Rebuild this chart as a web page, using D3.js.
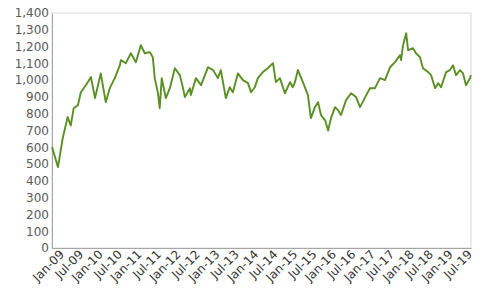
<!DOCTYPE html>
<html>
<head>
<meta charset="utf-8">
<script src="https://cdn.jsdelivr.net/npm/d3@7"></script>
<style>
  body { margin: 0; background: #fff; }
  text { font-family: "DejaVu Sans", sans-serif; }
</style>
</head>
<body>
<svg width="500" height="300"></svg>
<script>
// values, roughly every few weeks
const dates = [
  "2009-01-02","2009-02-26","2009-04-12","2009-05-28","2009-06-26","2009-07-24","2009-09-01","2009-09-29",
  "2009-11-15","2010-01-02","2010-02-09","2010-04-04","2010-05-21","2010-06-28","2010-08-14","2010-10-01",
  "2010-10-10","2010-11-26","2011-01-12","2011-02-28","2011-04-15","2011-05-22","2011-07-08","2011-08-06",
  "2011-08-24","2011-09-22","2011-10-10","2011-10-29","2011-12-06","2012-01-13","2012-02-29","2012-04-16",
  "2012-05-14","2012-06-02","2012-07-19","2012-07-28","2012-09-14","2012-11-01","2013-01-06","2013-02-22",
  "2013-04-08","2013-05-06","2013-06-22","2013-07-29","2013-08-27","2013-10-13","2013-11-30","2014-01-16",
  "2014-02-14","2014-03-21","2014-04-19","2014-06-05","2014-07-21","2014-09-08","2014-10-05","2014-11-12",
  "2014-12-29","2015-02-15","2015-03-13","2015-04-02","2015-04-30","2015-06-16","2015-08-02","2015-08-30",
  "2015-10-07","2015-11-05","2015-12-03","2016-01-10","2016-02-08","2016-03-06","2016-04-13","2016-05-11",
  "2016-06-08","2016-07-25","2016-09-11","2016-10-27","2016-12-04","2017-01-21","2017-03-07","2017-04-23",
  "2017-06-09","2017-07-26","2017-09-12","2017-10-28","2017-12-15","2017-12-24","2018-01-12","2018-02-10",
  "2018-02-28","2018-04-15","2018-05-13","2018-06-20","2018-07-18","2018-09-04","2018-10-02","2018-11-09",
  "2018-12-07","2019-01-04","2019-02-20","2019-03-28","2019-04-26","2019-05-24","2019-07-01","2019-07-29",
  "2019-08-26","2019-10-03","2019-10-10"
]
const values = [
  600, 482, 655, 780, 730, 833, 850, 928,
  970, 1018, 893, 1040, 869, 952, 1012, 1089,
  1119, 1101, 1160, 1107, 1208, 1160, 1167, 1137,
  1012, 928, 833, 1012, 893, 952, 1071, 1030,
  958, 899, 952, 911, 1012, 970, 1077, 1060,
  1012, 1060, 893, 958, 928, 1040, 1000, 982,
  928, 958, 1012, 1048, 1071, 1101, 988, 1012,
  922, 988, 958, 988, 1060, 988, 911, 774,
  839, 869, 792, 762, 700, 774, 839, 821,
  792, 881, 922, 899, 839, 899, 952, 952,
  1012, 1000, 1077, 1107, 1149, 1119, 1208, 1280,
  1179, 1190, 1160, 1137, 1071, 1048, 1030, 952,
  982, 958, 1048, 1060, 1089, 1030, 1060, 1040,
  970, 1012, 1030
]
const yTicks = d3.range(0, 1401, 100)

const parse = d3.timeParse("%Y-%m-%d")
const data = dates.map((d, i) => ({ date: parse(d), value: values[i] }))

const margin = { top: 13, right: 29, bottom: 52, left: 52 }
const width = 500 - margin.left - margin.right
const height = 300 - margin.top - margin.bottom

const svg = d3.select("svg")
const g = svg.append("g").attr("transform", "translate(" + margin.left + "," + margin.top + ")")

const x = d3.scaleTime()
  .domain([parse("2009-01-01"), parse("2019-10-12")])
  .range([0, width])
const y = d3.scaleLinear().domain([0, 1400]).range([height, 0])

// plot frame
g.append("rect")
  .attr("width", width).attr("height", height)
  .attr("fill", "none").attr("stroke", "#d9d9d9")

const yAxis = g.append("g")
  .call(d3.axisLeft(y).tickValues(yTicks).tickSize(0).tickPadding(3).tickFormat(d3.format(",")))
yAxis.select(".domain").attr("stroke", "#a6a6a6")
yAxis.selectAll("text").attr("font-size", 12).attr("fill", "#595959").attr("font-family", "DejaVu Sans")

const xTicks = d3.timeMonth.every(6).range(parse("2009-01-01"), parse("2019-08-01"))
const xAxis = g.append("g")
  .attr("transform", "translate(0," + height + ")")
  .call(d3.axisBottom(x).tickValues(xTicks).tickSize(0).tickFormat(d3.timeFormat("%b-%y")))
xAxis.select(".domain").attr("stroke", "#a6a6a6")
xAxis.selectAll("text")
  .attr("font-size", 12).attr("fill", "#333").attr("font-family", "DejaVu Sans")
  .attr("text-anchor", "end")
  .attr("dx", "0.3em").attr("dy", "0.9em")
  .attr("transform", "rotate(-45)")

const line = d3.line()
  .x(d => x(d.date))
  .y(d => y(d.value))

g.append("path")
  .datum(data)
  .attr("fill", "none")
  .attr("stroke", "#5a8f24")
  .attr("stroke-width", 1.9)
  .attr("stroke-linejoin", "round")
  .attr("d", line)
</script>
</body>
</html>
